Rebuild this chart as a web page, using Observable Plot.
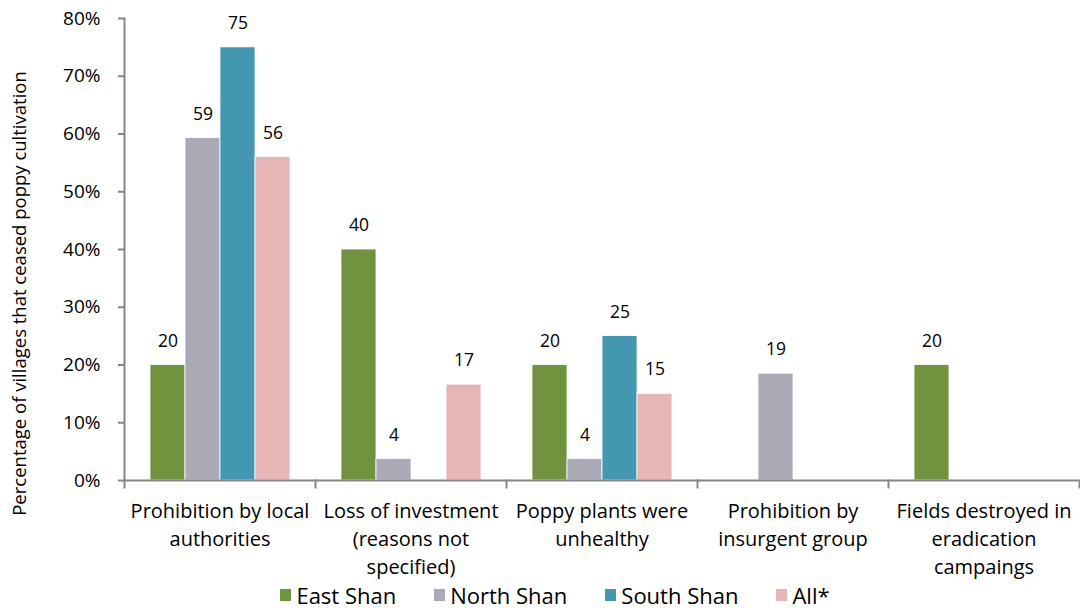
<!DOCTYPE html>
<html>
<head>
<meta charset="utf-8">
<script src="https://cdn.jsdelivr.net/npm/d3@7"></script>
<script src="https://cdn.jsdelivr.net/npm/@observablehq/plot@0.6"></script>
<style>
  html, body { margin: 0; padding: 0; background: #fff; }
  #chart { width: 1080px; height: 610px; position: relative; font-family: "Open Sans", sans-serif; }
  .legend { display: flex; justify-content: center; align-items: center; height: 22px; font-size: 22px; color: #000; padding-left: 30px; }
  .legend .item { display: flex; align-items: center; margin: 0 19px; }
  .legend .sw { width: 11px; height: 12px; margin-right: 5px; }
</style>
</head>
<body>
<div id="chart"></div>
<script>
const categories = [
  "Prohibition by local authorities",
  "Loss of investment (reasons not specified)",
  "Poppy plants were unhealthy",
  "Prohibition by insurgent group",
  "Fields destroyed in eradication campaings"
];
const categoryLabels = [
  "Prohibition by local\nauthorities",
  "Loss of investment\n(reasons not\nspecified)",
  "Poppy plants were\nunhealthy",
  "Prohibition by\ninsurgent group",
  "Fields destroyed in\neradication\ncampaings"
];
const series = ["East Shan", "North Shan", "South Shan", "All*"];
const colors = ["#71933f", "#a9aab6", "#4397b0", "#e6b6b6"];
const eastShan  = [20, 40, 20, null, 20];
const northShan = [59.3, 3.7, 3.7, 18.5, null];
const southShan = [75, null, 25, null, null];
const allShan   = [56, 16.6, 15, null, null];
const yTicks = [0, 10, 20, 30, 40, 50, 60, 70, 80];
const yTitle = "Percentage of villages that ceased poppy cultivation";

const seriesValues = [eastShan, northShan, southShan, allShan];
const rows = [];
categories.forEach((c, i) => {
  series.forEach((s, k) => {
    const v = seriesValues[k][i];
    if (v != null) rows.push({category: c, series: s, value: v});
  });
});
const labelOf = new Map(categories.map((c, i) => [c, categoryLabels[i]]));

const plot = Plot.plot({
  width: 1080,
  height: 584,
  marginLeft: 122,
  marginRight: 0,
  marginTop: 18,
  marginBottom: 104,
  style: {fontFamily: "'Open Sans', sans-serif", fontSize: "18px", color: "#000", background: "#fff"},
  fx: {domain: categories, padding: 0},
  x: {domain: series, paddingInner: 0, paddingOuter: 0.72, axis: null},
  y: {domain: [0, 80]},
  color: {domain: series, range: colors},
  marks: [
    Plot.barY(rows, {fx: "category", x: "series", y: "value", fill: "series", stroke: "#fff", strokeWidth: 0.8}),
    Plot.text(rows, {fx: "category", x: "series", y: "value", text: d => String(Math.round(d.value)), dy: -24, fontSize: 17.5, fill: "#000"}),
    Plot.ruleY([0], {stroke: "#868686", strokeWidth: 2}),
    Plot.frame({anchor: "left", facetAnchor: "left", stroke: "#868686", strokeWidth: 2}),
    Plot.frame({anchor: "left", insetTop: 462, insetBottom: -7, stroke: "#868686", strokeWidth: 2}),
    Plot.frame({anchor: "right", facetAnchor: "right", insetTop: 462, insetBottom: -7, stroke: "#868686", strokeWidth: 2}),
    Plot.axisY({ticks: yTicks, tickFormat: d => d + "%", tickSize: 6, tickPadding: 18, stroke: "#868686", strokeWidth: 2, fontSize: 19, label: null, facetAnchor: "left"}),
    Plot.axisFx({tickFormat: d => labelOf.get(d), tickSize: 0, tickPadding: 18, lineHeight: 1.4, fontSize: 20, label: null, anchor: "bottom"}),
    Plot.text([yTitle], {frameAnchor: "left", textAnchor: "middle", rotate: -90, dx: -104, dy: 44, fontSize: 18.5, fill: "#000", facetAnchor: "left"})
  ]
});
document.getElementById("chart").appendChild(plot);

const legend = document.createElement("div");
legend.className = "legend";
series.forEach((s, k) => {
  const item = document.createElement("div");
  item.className = "item";
  const sw = document.createElement("div");
  sw.className = "sw";
  sw.style.background = colors[k];
  const t = document.createElement("span");
  t.textContent = s;
  item.appendChild(sw);
  item.appendChild(t);
  legend.appendChild(item);
});
document.getElementById("chart").appendChild(legend);
</script>
</body>
</html>
